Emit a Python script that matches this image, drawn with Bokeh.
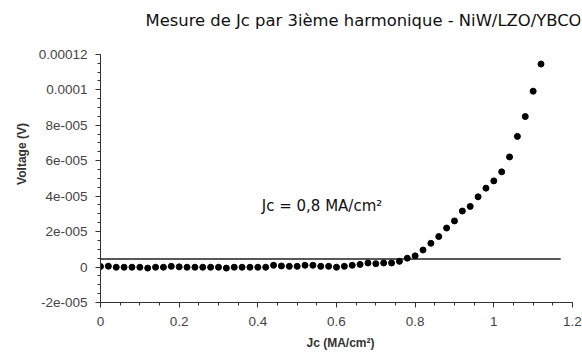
from bokeh.plotting import figure
from bokeh.models import FixedTicker, Label, Range1d
from bokeh.embed import file_html
from bokeh.resources import INLINE

# Data (current density in MA/cm2, voltage in V)
jc = [round(0.02 * i, 2) for i in range(57)]
voltage_uV = [0.3, 0.5, -0.1, -0.1, -0.1, -0.1, -0.6, -0.1, -0.1, 0.4,
              0.1, -0.1, -0.1, -0.1, -0.1, -0.1, -0.6, -0.1, -0.1, -0.1,
              -0.1, -0.1, 1.0, 0.6, 0.4, 0.4, 1.0, 1.0, 0.4, 0.4,
              -0.1, 0.4, 1.0, 1.5, 2.3, 1.9, 2.3, 2.3, 3.2, 5.0,
              6.3, 9.6, 13.4, 17.2, 22.0, 26.0, 31.6, 34.2, 39.6, 44.5,
              48.6, 53.7, 62.1, 73.7, 84.9, 99.2, 114.5]
voltage = [v * 1e-6 for v in voltage_uV]

criterion_x = [0.0, 1.17]
criterion_y = [4.5e-6, 4.5e-6]

y_ticks = [-2e-5, 0, 2e-5, 4e-5, 6e-5, 8e-5, 1e-4, 1.2e-4]
y_tick_labels = ["-2e-005", "0", "2e-005", "4e-005", "6e-005", "8e-005", "0.0001", "0.00012"]
x_ticks = [0, 0.2, 0.4, 0.6, 0.8, 1.0, 1.2]
x_tick_labels = ["0", "0.2", "0.4", "0.6", "0.8", "1", "1.2"]

title_text = "Mesure de Jc par 3ième harmonique - NiW/LZO/YBCO"
annot_text = "Jc = 0,8 MA/cm²"

# the frame extends above/right of the axes' ends to leave room for the title inside it
p = figure(width=582, height=353, output_backend="svg", toolbar_location=None,
           x_range=Range1d(0, 1.2204), y_range=Range1d(-2e-5, 1.4753e-4),
           min_border_left=100, min_border_right=2, min_border_top=5, min_border_bottom=51)
p.outline_line_color = None
p.xgrid.visible = False
p.ygrid.visible = False
p.title.visible = False

for ax in (p.xaxis[0], p.yaxis[0]):
    ax.axis_line_color = "#333333"
    ax.major_tick_line_color = "#333333"
    ax.minor_tick_line_color = "#333333"
    ax.major_tick_out = 5
    ax.major_tick_in = 0
    ax.minor_tick_out = 3
    ax.minor_tick_in = 0
    ax.major_label_text_font = "Liberation Sans"
    ax.major_label_text_font_size = "13.5px"
    ax.major_label_text_color = "#444444"
    ax.axis_label_text_font = "Liberation Sans"
    ax.axis_label_text_font_size = "12px"
    ax.axis_label_text_font_style = "bold"
    ax.axis_label_text_color = "#333333"

p.xaxis.ticker = FixedTicker(ticks=x_ticks,
                             minor_ticks=[round(0.05 * i, 2) for i in range(25)])
p.xaxis.bounds = (x_ticks[0], x_ticks[-1])
p.xaxis.major_label_overrides = {t: l for t, l in zip(x_ticks, x_tick_labels)}
p.xaxis.major_label_standoff = 9
p.xaxis.axis_label = "Jc (MA/cm²)"
p.xaxis.axis_label_standoff = 7

p.yaxis.ticker = FixedTicker(ticks=y_ticks,
                             minor_ticks=[-2e-5 + 5e-6 * i for i in range(29)])
p.yaxis.bounds = (y_ticks[0], y_ticks[-1])
p.yaxis.major_label_overrides = {t: l for t, l in zip(y_ticks, y_tick_labels)}
p.yaxis.major_label_standoff = 8
p.yaxis.axis_label = "Voltage (V)"
p.yaxis.axis_label_standoff = 7

p.line(criterion_x, criterion_y, line_color="#222222", line_width=1.5)
p.scatter(jc, voltage, size=6, color="black")

p.add_layout(Label(x=0.41, y=3.45e-5, text=annot_text, text_font="DejaVu Sans",
                   text_font_size="15px", text_baseline="middle", text_color="#111111"))

# chart title, in screen units inside the top of the frame
p.add_layout(Label(x=45, y=282, x_units="screen", y_units="screen", text=title_text,
                   text_font="DejaVu Sans", text_font_size="16.4px",
                   text_baseline="middle", text_color="#111111"))

open("out.html", "w").write(file_html(p, INLINE))
